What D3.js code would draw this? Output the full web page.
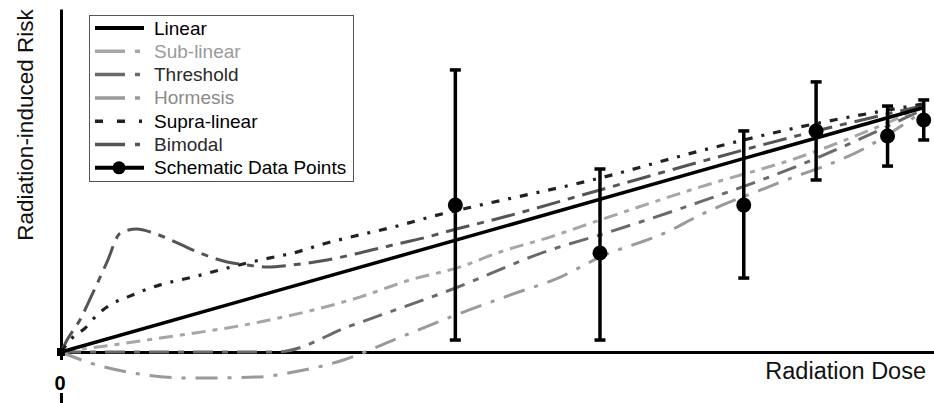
<!DOCTYPE html>
<html><head><meta charset="utf-8">
<script src="https://cdn.jsdelivr.net/npm/d3@7"></script>
<style>
html,body{margin:0;padding:0;background:#fff;}
svg{display:block;font-family:"Liberation Sans",Arial,sans-serif;}
</style></head>
<body>
<svg id="chart" width="934" height="403"></svg>
<script>
// ---- data (dose, risk), arbitrary units ----
const linearDose = [0, 1];
const linearRisk = [0, 1];

const subLinearDose = [0, 0.115, 0.231, 0.347, 0.405, 0.463, 0.510, 0.568, 0.626, 0.742, 0.858, 1];
const subLinearRisk = [0, 0.057, 0.123, 0.225, 0.295, 0.348, 0.410, 0.471, 0.541, 0.676, 0.799, 1];

const thresholdDose = [0, 0.251, 0.336, 0.452, 0.568, 0.626, 0.742, 0.858, 1];
const thresholdRisk = [0, 0, 0.107, 0.254, 0.418, 0.480, 0.615, 0.766, 0.992];

const hormesisDose = [0, 0.034, 0.077, 0.153, 0.231, 0.270, 0.328, 0.386, 0.452, 0.522, 0.580, 0.626, 0.704, 0.742, 0.827, 0.936, 1];
const hormesisRisk = [0, -0.045, -0.082, -0.107, -0.102, -0.082, -0.033, 0.049, 0.143, 0.234, 0.307, 0.389, 0.492, 0.561, 0.684, 0.840, 0.984];

const supraDose = [0, 0.0128, 0.028, 0.042, 0.057, 0.077, 0.115, 0.153, 0.193, 0.231, 0.270, 0.309, 0.347, 0.386, 0.437, 0.472, 0.626, 0.742, 0.858, 1];
const supraRisk = [0, 0.057, 0.098, 0.152, 0.193, 0.225, 0.275, 0.307, 0.344, 0.377, 0.406, 0.447, 0.480, 0.512, 0.561, 0.590, 0.713, 0.824, 0.922, 1.016];

const bimodalDose = [0, 0.007, 0.022, 0.037, 0.053, 0.069, 0.088, 0.107, 0.135, 0.161, 0.193, 0.216, 0.239, 0.270, 0.309, 0.347, 0.386, 0.425, 0.455, 0.510, 0.626, 0.742, 0.858, 1];
const bimodalRisk = [0, 0.049, 0.131, 0.242, 0.365, 0.488, 0.504, 0.488, 0.447, 0.406, 0.369, 0.357, 0.348, 0.357, 0.377, 0.406, 0.439, 0.471, 0.500, 0.549, 0.664, 0.779, 0.889, 1.008];

const pointDose = [0.458, 0.626, 0.793, 0.877, 0.960, 1.002];
const pointRisk = [0.602, 0.406, 0.602, 0.906, 0.885, 0.951];
const pointLow  = [0.049, 0.049, 0.303, 0.705, 0.762, 0.869];
const pointHigh = [1.156, 0.750, 0.906, 1.107, 1.008, 1.033];

const seriesNames = ["Linear", "Sub-linear", "Threshold", "Hormesis", "Supra-linear", "Bimodal", "Schematic Data Points"];
const xLabel = "Radiation Dose";
const yLabel = "Radiation-induced Risk";
const originLabel = "0";

// ---- drawing ----
const svg = d3.select("#chart");
const x = d3.scaleLinear().domain([0, 1]).range([61, 922]);
const y = d3.scaleLinear().domain([0, 1]).range([352, 108]);

const zip = (a, b) => a.map((v, i) => [v, b[i]]);

const styles = {
  "Linear":       {color: "#000", width: 3.5, dash: null, text: "#000", legendDash: null},
  "Sub-linear":   {color: "#a6a6a6", width: 3, dash: "14,7,5,7", text: "#9a9a9a", legendDash: "30,10,5,200"},
  "Threshold":    {color: "#6a6a6a", width: 3, dash: "20,9,6,9", text: "#2a2a2a", legendDash: "30,10,5,200"},
  "Hormesis":     {color: "#9a9a9a", width: 3, dash: "22,10,4,10", text: "#8a8a8a", legendDash: "30,10,5,200"},
  "Supra-linear": {color: "#222", width: 3.2, dash: "8,9,3,9", text: "#000", legendDash: "8,14,8,14,3,200"},
  "Bimodal":      {color: "#555", width: 3, dash: "24,8,7,8", text: "#2a2a2a", legendDash: "30,10,5,200"}
};

const curves = [
  ["Sub-linear", zip(subLinearDose, subLinearRisk)],
  ["Threshold", zip(thresholdDose, thresholdRisk)],
  ["Hormesis", zip(hormesisDose, hormesisRisk)],
  ["Bimodal", zip(bimodalDose, bimodalRisk)],
  ["Supra-linear", zip(supraDose, supraRisk)],
  ["Linear", zip(linearDose, linearRisk)]
];

// axes
const xAxisScale = d3.scaleLinear().domain([0, x.invert(934)]).range([61, 934]);
const yAxisScale = d3.scaleLinear().domain([y.invert(403), y.invert(9)]).range([403, 9]);

const gx = svg.append("g").attr("transform", `translate(0,${y(0)})`)
  .call(d3.axisBottom(xAxisScale).tickValues([]).tickSizeOuter(0));
gx.select(".domain").attr("stroke", "#000").attr("stroke-width", 3);

const gy = svg.append("g").attr("transform", `translate(${x(0)},0)`)
  .call(d3.axisLeft(yAxisScale).tickValues([]).tickSizeOuter(0));
gy.select(".domain").attr("stroke", "#000").attr("stroke-width", 3);
// white gap for the "0" label across the y axis
svg.append("rect").attr("x", x(0) - 10).attr("y", 360).attr("width", 20).attr("height", 33).attr("fill", "#fff");

svg.append("text").attr("x", x(0) - 1).attr("y", 390).attr("text-anchor", "middle")
  .attr("font-size", 20).attr("font-weight", "bold").text(originLabel);

svg.append("text").attr("x", 926).attr("y", 379).attr("text-anchor", "end")
  .attr("font-size", 23.5).attr("fill", "#111").text(xLabel);

svg.append("text").attr("transform", "translate(33,125) rotate(-90)").attr("text-anchor", "middle")
  .attr("font-size", 22.5).attr("fill", "#111").text(yLabel);

// curves
const line = d3.line().x(d => x(d[0])).y(d => y(d[1])).curve(d3.curveMonotoneX);
curves.forEach(([name, pts]) => {
  const s = styles[name];
  svg.append("path").datum(pts).attr("d", line)
    .attr("fill", "none").attr("stroke", s.color).attr("stroke-width", s.width)
    .attr("stroke-dasharray", s.dash);
});

// origin marker
svg.append("rect").attr("x", x(0) - 4).attr("y", y(0) - 4).attr("width", 8).attr("height", 8).attr("fill", "#000");

// error bars and points
const pts = pointDose.map((d, i) => ({d, r: pointRisk[i], lo: pointLow[i], hi: pointHigh[i]}));
const eb = svg.append("g");
pts.forEach(p => {
  eb.append("line").attr("x1", x(p.d)).attr("x2", x(p.d)).attr("y1", y(p.lo)).attr("y2", y(p.hi))
    .attr("stroke", "#000").attr("stroke-width", 3.5);
  [p.lo, p.hi].forEach(v => eb.append("line")
    .attr("x1", x(p.d) - 5.5).attr("x2", x(p.d) + 5.5).attr("y1", y(v)).attr("y2", y(v))
    .attr("stroke", "#000").attr("stroke-width", 3.5));
  eb.append("circle").attr("cx", x(p.d)).attr("cy", y(p.r)).attr("r", 7.5).attr("fill", "#000");
});

// legend
const lg = svg.append("g");
lg.append("rect").attr("x", 89.5).attr("y", 15.5).attr("width", 264).attr("height", 166)
  .attr("fill", "#fff").attr("stroke", "#555").attr("stroke-width", 1);
seriesNames.forEach((name, i) => {
  const cy = 28 + i * 23.3;
  if (name === "Schematic Data Points") {
    lg.append("line").attr("x1", 95).attr("x2", 144).attr("y1", cy).attr("y2", cy)
      .attr("stroke", "#000").attr("stroke-width", 4);
    lg.append("circle").attr("cx", 119).attr("cy", cy).attr("r", 6.5).attr("fill", "#000");
  } else {
    const s = styles[name];
    lg.append("line").attr("x1", 95).attr("x2", 144).attr("y1", cy).attr("y2", cy)
      .attr("stroke", s.color).attr("stroke-width", name === "Linear" ? 4 : 3.5)
      .attr("stroke-dasharray", s.legendDash);
  }
  lg.append("text").attr("x", 154).attr("y", cy + 6.5).attr("font-size", 19)
    .attr("fill", name === "Schematic Data Points" ? "#000" : styles[name].text).text(name);
});
</script>
</body></html>
